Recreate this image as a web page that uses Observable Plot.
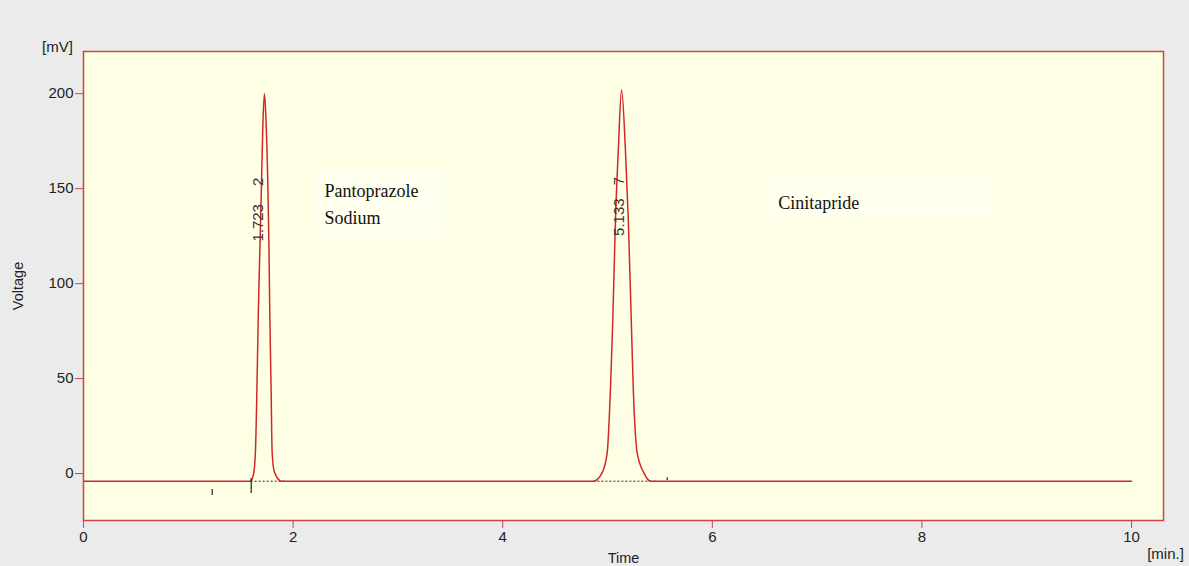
<!DOCTYPE html>
<html><head><meta charset="utf-8">
<script src="https://cdn.jsdelivr.net/npm/d3@7"></script>
<script src="https://cdn.jsdelivr.net/npm/@observablehq/plot@0.6"></script>
<style>html,body{margin:0;padding:0;background:#EBEBEB;overflow:hidden}</style>
</head><body><div id="chart"></div>
<script>
// Chromatogram trace (time in min, voltage in mV)
const traceTime = [0, 1.59, 1.62, 1.64, 1.655, 1.667, 1.683, 1.698, 1.712, 1.727, 1.742, 1.759, 1.77, 1.778, 1.79, 1.80, 1.823, 1.89,
  4.866, 4.949, 4.997, 5.029, 5.051, 5.076, 5.102, 5.134, 5.172, 5.198, 5.226, 5.245, 5.283, 5.346, 5.41, 10];
const traceVolt = [-4, -4, -1, 11, 45, 82, 118, 152, 185, 200, 185, 152, 118, 82, 45, 11, 0.5, -4,
  -4, 0.5, 11, 46, 82, 134, 169, 202, 169, 134, 82, 46, 11, 0.5, -4, -4];

// Integration baselines (dotted)
const baseStart = [1.60, 4.87];
const baseEnd = [1.93, 5.46];
const baseLevel = [-4, -4];

// Event marks
const eventTime = [1.228, 1.60, 5.57];
const eventLow = [-11.6, -10.5, -3.7];
const eventHigh = [-8.4, -2.6, -2.2];

// Peak annotations
const peakRT = ["1.723", "5.133"];
const peakNo = ["2", "7"];
const peakLabelTime = [1.667, 5.108];
const peakRTVolt = [132, 135];
const peakNoVolt = [153.6, 154];

// Compound names and their boxes
const compoundNames = ["Pantoprazole\nSodium", "Cinitapride"];
const nameTime = [2.30, 6.63];
const nameVolt = [155.8, 149.4];
const boxT1 = [2.214, 6.527];
const boxT2 = [3.454, 8.674];
const boxV1 = [123.6, 134];
const boxV2 = [161, 156.7];

// Axis ticks
const xTicks = [0, 2, 4, 6, 8, 10];
const yTicks = [0, 50, 100, 150, 200];

const trace = traceTime.map((t, i) => ({t, v: traceVolt[i]}));
const baselines = baseStart.map((s, i) => ({t1: s, t2: baseEnd[i], v: baseLevel[i]}));
const events = eventTime.map((t, i) => ({t, lo: eventLow[i], hi: eventHigh[i]}));
const peaks = peakRT.map((rt, i) => ({rt, no: peakNo[i], t: peakLabelTime[i], vr: peakRTVolt[i], vn: peakNoVolt[i]}));
const names = compoundNames.map((n, i) => ({n, t: nameTime[i], v: nameVolt[i]}));
const boxes = boxT1.map((a, i) => ({t1: a, t2: boxT2[i], v1: boxV1[i], v2: boxV2[i]}));

const red = "#d04444";
const chart = Plot.plot({
  width: 1189, height: 566,
  marginLeft: 83, marginRight: 26, marginTop: 51, marginBottom: 46,
  style: {background: "#EBEBEB", fontFamily: "'Liberation Sans', Arial, sans-serif", color: "#222"},
  x: {domain: [0, 10.305]},
  y: {domain: [-24.7, 222.2]},
  marks: [
    Plot.frame({fill: "#FFFFE6", stroke: "none"}),
    Plot.rect(boxes, {x1: "t1", x2: "t2", y1: "v1", y2: "v2", fill: "#FFFFEE"}),
    Plot.ruleY(baselines, {y: "v", x1: "t1", x2: "t2", stroke: "#222", strokeWidth: 1, strokeDasharray: "2,2"}),
    Plot.line(trace, {x: "t", y: "v", stroke: "#d02828", strokeWidth: 1.5, curve: "monotone-x"}),
    Plot.ruleX(events, {x: "t", y1: "lo", y2: "hi", stroke: "#222", strokeWidth: 1.2}),
    Plot.text(peaks, {x: "t", y: "vr", text: "rt", rotate: -90, fontSize: 15, fill: "#333"}),
    Plot.text(peaks, {x: "t", y: "vn", text: "no", rotate: -90, fontSize: 15, fill: "#333"}),
    Plot.text(names, {x: "t", y: "v", text: "n", textAnchor: "start", lineAnchor: "top", lineHeight: 1.5,
      fontFamily: "'Liberation Serif', 'Times New Roman', serif", fontSize: 18, letterSpacing: 1, fill: "#111"}),
    Plot.frame({stroke: red, strokeWidth: 1.5}),
    Plot.axisX(xTicks, {tickSize: 8, tickPadding: 3, stroke: red, fill: "#222", fontSize: 15, label: null}),
    Plot.axisY(yTicks, {tickSize: 8, tickPadding: 2, stroke: red, fill: "#222", fontSize: 15, label: null}),
    Plot.text(["[mV]"], {frameAnchor: "top-left", dx: -26, dy: -4, textAnchor: "middle", lineAnchor: "middle", fontSize: 15, fill: "#222"}),
    Plot.text(["Voltage"], {frameAnchor: "left", dx: -65.5, rotate: -90, textAnchor: "middle", lineAnchor: "middle", fontSize: 14.5, fill: "#222"}),
    Plot.text(["Time"], {frameAnchor: "bottom", dy: 38, textAnchor: "middle", lineAnchor: "middle", fontSize: 14.5, fill: "#222"}),
    Plot.text(["[min.]"], {frameAnchor: "bottom-right", dx: 2, dy: 34, textAnchor: "middle", lineAnchor: "middle", fontSize: 15, fill: "#222"})
  ]
});
document.getElementById("chart").append(chart);
</script></body></html>
